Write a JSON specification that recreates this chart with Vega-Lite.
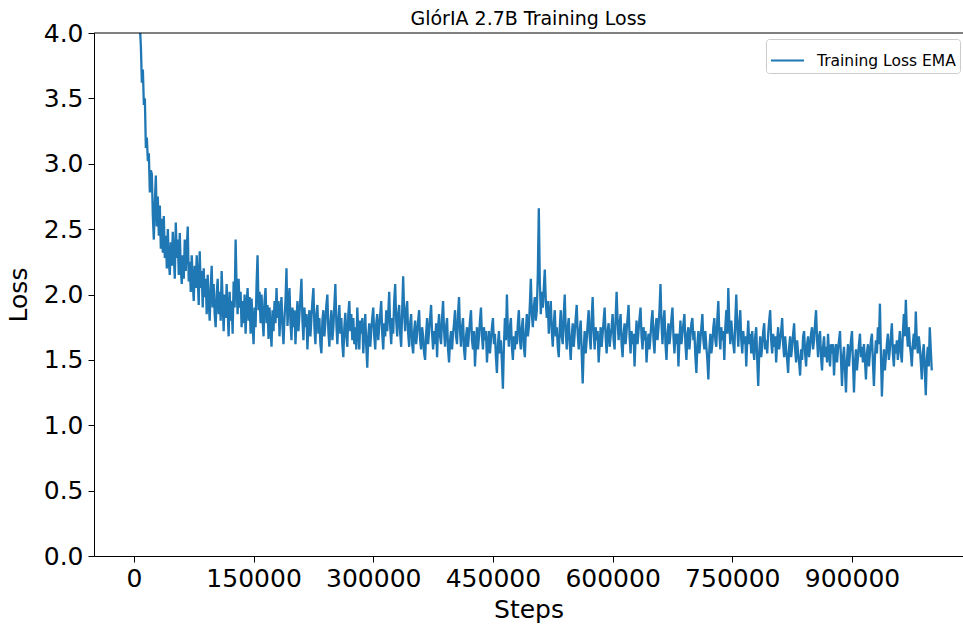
{
  "$schema": "https://vega.github.io/schema/vega-lite/v6.json",
  "width": 869,
  "height": 523,
  "autosize": {"type": "none"},
  "padding": {"left": 94, "top": 33, "right": 0, "bottom": 70},
  "background": "white",
  "config": {"view": {"stroke": null}, "font": "DejaVu Sans"},
  "title": {
    "text": "GlórIA 2.7B Training Loss",
    "font": "DejaVu Sans",
    "fontSize": 19,
    "fontWeight": "normal",
    "color": "black",
    "anchor": "middle",
    "frame": "group",
    "offset": -23,
    "baseline": "alphabetic"
  },
  "data": {
    "values": [
      {"step": 0, "loss": 10.5}, {"step": 1250, "loss": 8.3}, {"step": 2500, "loss": 6.8}, {"step": 3750, "loss": 5.7},
      {"step": 5000, "loss": 4.9}, {"step": 6250, "loss": 4.4}, {"step": 7500, "loss": 4.05}, {"step": 8750, "loss": 3.9},
      {"step": 10000, "loss": 3.62}, {"step": 11250, "loss": 3.72}, {"step": 12500, "loss": 3.45}, {"step": 13750, "loss": 3.5},
      {"step": 15000, "loss": 3.12}, {"step": 16250, "loss": 3.2}, {"step": 17500, "loss": 3.02}, {"step": 18750, "loss": 3.08},
      {"step": 20000, "loss": 2.78}, {"step": 21250, "loss": 2.95}, {"step": 22500, "loss": 2.92}, {"step": 23750, "loss": 2.6},
      {"step": 25000, "loss": 2.42}, {"step": 26250, "loss": 2.7}, {"step": 27500, "loss": 2.91}, {"step": 28750, "loss": 2.52},
      {"step": 30000, "loss": 2.75}, {"step": 31250, "loss": 2.45}, {"step": 32500, "loss": 2.68}, {"step": 33750, "loss": 2.35},
      {"step": 35000, "loss": 2.58}, {"step": 36250, "loss": 2.32}, {"step": 37500, "loss": 2.6}, {"step": 38750, "loss": 2.28},
      {"step": 40000, "loss": 2.45}, {"step": 41250, "loss": 2.2}, {"step": 42500, "loss": 2.5}, {"step": 43750, "loss": 2.25},
      {"step": 45000, "loss": 2.15}, {"step": 46250, "loss": 2.4}, {"step": 47500, "loss": 2.22}, {"step": 48750, "loss": 2.48},
      {"step": 50000, "loss": 2.3}, {"step": 51250, "loss": 2.12}, {"step": 52500, "loss": 2.55}, {"step": 53750, "loss": 2.28},
      {"step": 55000, "loss": 2.42}, {"step": 56250, "loss": 2.15}, {"step": 57500, "loss": 2.47}, {"step": 58750, "loss": 2.2},
      {"step": 60000, "loss": 2.08}, {"step": 61250, "loss": 2.3}, {"step": 62500, "loss": 2.12}, {"step": 63750, "loss": 2.42},
      {"step": 65000, "loss": 2.18}, {"step": 66250, "loss": 2.35}, {"step": 67500, "loss": 2.52}, {"step": 68750, "loss": 2.1},
      {"step": 70000, "loss": 2.25}, {"step": 71250, "loss": 2.02}, {"step": 72500, "loss": 2.3}, {"step": 73750, "loss": 2.1},
      {"step": 75000, "loss": 1.95}, {"step": 76250, "loss": 2.22}, {"step": 77500, "loss": 2.05}, {"step": 78750, "loss": 2.3},
      {"step": 80000, "loss": 2.12}, {"step": 81250, "loss": 1.92}, {"step": 82500, "loss": 2.33}, {"step": 83750, "loss": 2.05},
      {"step": 85000, "loss": 2.18}, {"step": 86250, "loss": 1.9}, {"step": 87500, "loss": 2.2}, {"step": 88750, "loss": 1.98},
      {"step": 90000, "loss": 2.12}, {"step": 91250, "loss": 1.85}, {"step": 92500, "loss": 2.15}, {"step": 93750, "loss": 1.95},
      {"step": 95000, "loss": 1.8}, {"step": 96250, "loss": 2.05}, {"step": 97500, "loss": 2.22}, {"step": 98750, "loss": 1.9},
      {"step": 100000, "loss": 2.08}, {"step": 101250, "loss": 1.85}, {"step": 102500, "loss": 1.75}, {"step": 103750, "loss": 2.0},
      {"step": 105000, "loss": 2.12}, {"step": 106250, "loss": 1.85}, {"step": 107500, "loss": 2.02}, {"step": 108750, "loss": 1.8},
      {"step": 110000, "loss": 2.18}, {"step": 111250, "loss": 1.95}, {"step": 112500, "loss": 1.72}, {"step": 113750, "loss": 2.0},
      {"step": 115000, "loss": 1.82}, {"step": 116250, "loss": 2.08}, {"step": 117500, "loss": 1.88}, {"step": 118750, "loss": 1.68},
      {"step": 120000, "loss": 2.02}, {"step": 121250, "loss": 1.8}, {"step": 122500, "loss": 1.95}, {"step": 123750, "loss": 1.7},
      {"step": 125000, "loss": 2.1}, {"step": 126250, "loss": 1.9}, {"step": 127500, "loss": 2.42}, {"step": 128750, "loss": 2.05},
      {"step": 130000, "loss": 1.85}, {"step": 131250, "loss": 2.12}, {"step": 132500, "loss": 1.9}, {"step": 133750, "loss": 2.02},
      {"step": 135000, "loss": 1.75}, {"step": 136250, "loss": 1.95}, {"step": 137500, "loss": 1.78}, {"step": 138750, "loss": 2.0},
      {"step": 140000, "loss": 1.7}, {"step": 141250, "loss": 1.92}, {"step": 142500, "loss": 2.05}, {"step": 143750, "loss": 1.8},
      {"step": 145000, "loss": 1.98}, {"step": 146250, "loss": 1.7}, {"step": 147500, "loss": 1.97}, {"step": 148750, "loss": 1.78},
      {"step": 150000, "loss": 1.62}, {"step": 151250, "loss": 1.9}, {"step": 152500, "loss": 1.75}, {"step": 153750, "loss": 2.08},
      {"step": 155000, "loss": 2.3}, {"step": 156250, "loss": 1.88}, {"step": 157500, "loss": 2.02}, {"step": 158750, "loss": 1.78},
      {"step": 160000, "loss": 2.0}, {"step": 161250, "loss": 1.82}, {"step": 162500, "loss": 1.68}, {"step": 163750, "loss": 1.95},
      {"step": 165000, "loss": 2.05}, {"step": 166250, "loss": 1.78}, {"step": 167500, "loss": 1.92}, {"step": 168750, "loss": 1.66},
      {"step": 170000, "loss": 1.9}, {"step": 171250, "loss": 1.75}, {"step": 172500, "loss": 1.6}, {"step": 173750, "loss": 1.88},
      {"step": 175000, "loss": 1.72}, {"step": 176250, "loss": 1.95}, {"step": 177500, "loss": 1.78}, {"step": 178750, "loss": 2.05},
      {"step": 180000, "loss": 1.82}, {"step": 181250, "loss": 1.95}, {"step": 182500, "loss": 1.68}, {"step": 183750, "loss": 1.88},
      {"step": 185000, "loss": 1.98}, {"step": 186250, "loss": 1.75}, {"step": 187500, "loss": 1.62}, {"step": 188750, "loss": 1.82},
      {"step": 190000, "loss": 1.95}, {"step": 191250, "loss": 2.2}, {"step": 192500, "loss": 1.76}, {"step": 193750, "loss": 1.92},
      {"step": 195000, "loss": 2.05}, {"step": 196250, "loss": 1.78}, {"step": 197500, "loss": 1.65}, {"step": 198750, "loss": 1.9},
      {"step": 200000, "loss": 1.75}, {"step": 201250, "loss": 1.88}, {"step": 202500, "loss": 1.62}, {"step": 203750, "loss": 1.8},
      {"step": 205000, "loss": 1.95}, {"step": 206250, "loss": 1.72}, {"step": 207500, "loss": 1.85}, {"step": 208750, "loss": 1.98},
      {"step": 210000, "loss": 2.12}, {"step": 211250, "loss": 1.8}, {"step": 212500, "loss": 1.65}, {"step": 213750, "loss": 1.9},
      {"step": 215000, "loss": 1.75}, {"step": 216250, "loss": 1.85}, {"step": 217500, "loss": 1.58}, {"step": 218750, "loss": 1.78},
      {"step": 220000, "loss": 1.88}, {"step": 221250, "loss": 1.68}, {"step": 222500, "loss": 1.82}, {"step": 223750, "loss": 1.95},
      {"step": 225000, "loss": 2.05}, {"step": 226250, "loss": 1.75}, {"step": 227500, "loss": 1.62}, {"step": 228750, "loss": 1.85},
      {"step": 230000, "loss": 1.92}, {"step": 231250, "loss": 1.7}, {"step": 232500, "loss": 1.82}, {"step": 233750, "loss": 1.62},
      {"step": 235000, "loss": 1.55}, {"step": 236250, "loss": 1.8}, {"step": 237500, "loss": 1.88}, {"step": 238750, "loss": 1.68},
      {"step": 240000, "loss": 1.78}, {"step": 241250, "loss": 1.92}, {"step": 242500, "loss": 2.0}, {"step": 243750, "loss": 1.72},
      {"step": 245000, "loss": 1.6}, {"step": 246250, "loss": 1.78}, {"step": 247500, "loss": 1.88}, {"step": 248750, "loss": 1.65},
      {"step": 250000, "loss": 1.75}, {"step": 251250, "loss": 1.92}, {"step": 252500, "loss": 2.08}, {"step": 253750, "loss": 1.78},
      {"step": 255000, "loss": 1.62}, {"step": 256250, "loss": 1.8}, {"step": 257500, "loss": 1.92}, {"step": 258750, "loss": 1.7},
      {"step": 260000, "loss": 1.82}, {"step": 261250, "loss": 1.62}, {"step": 262500, "loss": 1.52}, {"step": 263750, "loss": 1.75},
      {"step": 265000, "loss": 1.86}, {"step": 266250, "loss": 1.68}, {"step": 267500, "loss": 1.6}, {"step": 268750, "loss": 1.85},
      {"step": 270000, "loss": 1.95}, {"step": 271250, "loss": 1.72}, {"step": 272500, "loss": 1.85}, {"step": 273750, "loss": 1.65},
      {"step": 275000, "loss": 1.82}, {"step": 276250, "loss": 1.62}, {"step": 277500, "loss": 1.75}, {"step": 278750, "loss": 1.58},
      {"step": 280000, "loss": 1.9}, {"step": 281250, "loss": 1.72}, {"step": 282500, "loss": 1.58}, {"step": 283750, "loss": 1.8},
      {"step": 285000, "loss": 1.7}, {"step": 286250, "loss": 1.82}, {"step": 287500, "loss": 1.55}, {"step": 288750, "loss": 1.72},
      {"step": 290000, "loss": 1.85}, {"step": 291250, "loss": 1.6}, {"step": 292500, "loss": 1.44}, {"step": 293750, "loss": 1.68},
      {"step": 295000, "loss": 1.78}, {"step": 296250, "loss": 1.6}, {"step": 297500, "loss": 1.72}, {"step": 298750, "loss": 1.82},
      {"step": 300000, "loss": 1.9}, {"step": 301250, "loss": 1.68}, {"step": 302500, "loss": 1.58}, {"step": 303750, "loss": 1.78},
      {"step": 305000, "loss": 1.85}, {"step": 306250, "loss": 1.65}, {"step": 307500, "loss": 1.75}, {"step": 308750, "loss": 1.85},
      {"step": 310000, "loss": 1.95}, {"step": 311250, "loss": 1.7}, {"step": 312500, "loss": 1.58}, {"step": 313750, "loss": 1.78},
      {"step": 315000, "loss": 1.68}, {"step": 316250, "loss": 1.88}, {"step": 317500, "loss": 1.72}, {"step": 318750, "loss": 1.85},
      {"step": 320000, "loss": 2.02}, {"step": 321250, "loss": 1.75}, {"step": 322500, "loss": 1.62}, {"step": 323750, "loss": 1.82},
      {"step": 325000, "loss": 1.7}, {"step": 326250, "loss": 1.95}, {"step": 327500, "loss": 2.08}, {"step": 328750, "loss": 1.8},
      {"step": 330000, "loss": 1.68}, {"step": 331250, "loss": 1.85}, {"step": 332500, "loss": 1.92}, {"step": 333750, "loss": 1.7},
      {"step": 335000, "loss": 1.6}, {"step": 336250, "loss": 1.88}, {"step": 337500, "loss": 2.14}, {"step": 338750, "loss": 1.85},
      {"step": 340000, "loss": 1.72}, {"step": 341250, "loss": 1.88}, {"step": 342500, "loss": 1.95}, {"step": 343750, "loss": 1.7},
      {"step": 345000, "loss": 1.6}, {"step": 346250, "loss": 1.78}, {"step": 347500, "loss": 1.85}, {"step": 348750, "loss": 1.62},
      {"step": 350000, "loss": 1.55}, {"step": 351250, "loss": 1.72}, {"step": 352500, "loss": 1.8}, {"step": 353750, "loss": 1.62},
      {"step": 355000, "loss": 1.7}, {"step": 356250, "loss": 1.8}, {"step": 357500, "loss": 1.88}, {"step": 358750, "loss": 1.65},
      {"step": 360000, "loss": 1.58}, {"step": 361250, "loss": 1.75}, {"step": 362500, "loss": 1.68}, {"step": 363750, "loss": 1.55},
      {"step": 365000, "loss": 1.5}, {"step": 366250, "loss": 1.7}, {"step": 367500, "loss": 1.82}, {"step": 368750, "loss": 1.62},
      {"step": 370000, "loss": 1.72}, {"step": 371250, "loss": 1.82}, {"step": 372500, "loss": 1.92}, {"step": 373750, "loss": 1.7},
      {"step": 375000, "loss": 1.58}, {"step": 376250, "loss": 1.72}, {"step": 377500, "loss": 1.62}, {"step": 378750, "loss": 1.78},
      {"step": 380000, "loss": 1.52}, {"step": 381250, "loss": 1.75}, {"step": 382500, "loss": 1.85}, {"step": 383750, "loss": 1.68},
      {"step": 385000, "loss": 1.62}, {"step": 386250, "loss": 1.82}, {"step": 387500, "loss": 1.95}, {"step": 388750, "loss": 1.72},
      {"step": 390000, "loss": 1.6}, {"step": 391250, "loss": 1.75}, {"step": 392500, "loss": 1.82}, {"step": 393750, "loss": 1.58},
      {"step": 395000, "loss": 1.48}, {"step": 396250, "loss": 1.65}, {"step": 397500, "loss": 1.72}, {"step": 398750, "loss": 1.58},
      {"step": 400000, "loss": 1.7}, {"step": 401250, "loss": 1.78}, {"step": 402500, "loss": 1.88}, {"step": 403750, "loss": 1.68},
      {"step": 405000, "loss": 1.62}, {"step": 406250, "loss": 1.85}, {"step": 407500, "loss": 1.98}, {"step": 408750, "loss": 1.72},
      {"step": 410000, "loss": 1.6}, {"step": 411250, "loss": 1.75}, {"step": 412500, "loss": 1.82}, {"step": 413750, "loss": 1.58},
      {"step": 415000, "loss": 1.5}, {"step": 416250, "loss": 1.68}, {"step": 417500, "loss": 1.75}, {"step": 418750, "loss": 1.6},
      {"step": 420000, "loss": 1.7}, {"step": 421250, "loss": 1.8}, {"step": 422500, "loss": 1.88}, {"step": 423750, "loss": 1.65},
      {"step": 425000, "loss": 1.58}, {"step": 426250, "loss": 1.72}, {"step": 427500, "loss": 1.45}, {"step": 428750, "loss": 1.62},
      {"step": 430000, "loss": 1.75}, {"step": 431250, "loss": 1.58}, {"step": 432500, "loss": 1.68}, {"step": 433750, "loss": 1.8},
      {"step": 435000, "loss": 1.9}, {"step": 436250, "loss": 1.68}, {"step": 437500, "loss": 1.58}, {"step": 438750, "loss": 1.75},
      {"step": 440000, "loss": 1.65}, {"step": 441250, "loss": 1.72}, {"step": 442500, "loss": 1.48}, {"step": 443750, "loss": 1.62},
      {"step": 445000, "loss": 1.72}, {"step": 446250, "loss": 1.55}, {"step": 447500, "loss": 1.65}, {"step": 448750, "loss": 1.75},
      {"step": 450000, "loss": 1.82}, {"step": 451250, "loss": 1.62}, {"step": 452500, "loss": 1.7}, {"step": 453750, "loss": 1.52},
      {"step": 455000, "loss": 1.4}, {"step": 456250, "loss": 1.62}, {"step": 457500, "loss": 1.72}, {"step": 458750, "loss": 1.55},
      {"step": 460000, "loss": 1.65}, {"step": 461250, "loss": 1.48}, {"step": 462500, "loss": 1.28}, {"step": 463750, "loss": 1.6},
      {"step": 465000, "loss": 1.82}, {"step": 466250, "loss": 1.65}, {"step": 467500, "loss": 2.0}, {"step": 468750, "loss": 1.72},
      {"step": 470000, "loss": 1.6}, {"step": 471250, "loss": 1.75}, {"step": 472500, "loss": 1.82}, {"step": 473750, "loss": 1.6},
      {"step": 475000, "loss": 1.5}, {"step": 476250, "loss": 1.68}, {"step": 477500, "loss": 1.58}, {"step": 478750, "loss": 1.72},
      {"step": 480000, "loss": 1.62}, {"step": 481250, "loss": 1.78}, {"step": 482500, "loss": 1.88}, {"step": 483750, "loss": 1.65},
      {"step": 485000, "loss": 1.58}, {"step": 486250, "loss": 1.75}, {"step": 487500, "loss": 1.82}, {"step": 488750, "loss": 1.6},
      {"step": 490000, "loss": 1.52}, {"step": 491250, "loss": 1.72}, {"step": 492500, "loss": 1.85}, {"step": 493750, "loss": 1.68},
      {"step": 495000, "loss": 1.75}, {"step": 496250, "loss": 1.92}, {"step": 497500, "loss": 2.12}, {"step": 498750, "loss": 1.85},
      {"step": 500000, "loss": 1.75}, {"step": 501250, "loss": 1.9}, {"step": 502500, "loss": 1.98}, {"step": 503750, "loss": 1.8},
      {"step": 505000, "loss": 1.88}, {"step": 506250, "loss": 2.15}, {"step": 507500, "loss": 2.66}, {"step": 508750, "loss": 2.1},
      {"step": 510000, "loss": 1.85}, {"step": 511250, "loss": 2.02}, {"step": 512500, "loss": 1.9}, {"step": 513750, "loss": 2.05},
      {"step": 515000, "loss": 2.19}, {"step": 516250, "loss": 1.95}, {"step": 517500, "loss": 1.82}, {"step": 518750, "loss": 1.95},
      {"step": 520000, "loss": 1.7}, {"step": 521250, "loss": 1.85}, {"step": 522500, "loss": 1.95}, {"step": 523750, "loss": 1.72},
      {"step": 525000, "loss": 1.6}, {"step": 526250, "loss": 1.78}, {"step": 527500, "loss": 1.88}, {"step": 528750, "loss": 1.68},
      {"step": 530000, "loss": 1.75}, {"step": 531250, "loss": 1.6}, {"step": 532500, "loss": 1.52}, {"step": 533750, "loss": 1.75},
      {"step": 535000, "loss": 1.88}, {"step": 536250, "loss": 1.68}, {"step": 537500, "loss": 1.62}, {"step": 538750, "loss": 1.85},
      {"step": 540000, "loss": 2.0}, {"step": 541250, "loss": 1.72}, {"step": 542500, "loss": 1.58}, {"step": 543750, "loss": 1.75},
      {"step": 545000, "loss": 1.82}, {"step": 546250, "loss": 1.62}, {"step": 547500, "loss": 1.5}, {"step": 548750, "loss": 1.68},
      {"step": 550000, "loss": 1.78}, {"step": 551250, "loss": 1.6}, {"step": 552500, "loss": 1.7}, {"step": 553750, "loss": 1.82},
      {"step": 555000, "loss": 1.92}, {"step": 556250, "loss": 1.7}, {"step": 557500, "loss": 1.58}, {"step": 558750, "loss": 1.72},
      {"step": 560000, "loss": 1.8}, {"step": 561250, "loss": 1.55}, {"step": 562500, "loss": 1.32}, {"step": 563750, "loss": 1.58},
      {"step": 565000, "loss": 1.72}, {"step": 566250, "loss": 1.55}, {"step": 567500, "loss": 1.65}, {"step": 568750, "loss": 1.78},
      {"step": 570000, "loss": 1.88}, {"step": 571250, "loss": 1.68}, {"step": 572500, "loss": 1.58}, {"step": 573750, "loss": 1.82},
      {"step": 575000, "loss": 1.98}, {"step": 576250, "loss": 1.72}, {"step": 577500, "loss": 1.58}, {"step": 578750, "loss": 1.75},
      {"step": 580000, "loss": 1.65}, {"step": 581250, "loss": 1.72}, {"step": 582500, "loss": 1.48}, {"step": 583750, "loss": 1.62},
      {"step": 585000, "loss": 1.75}, {"step": 586250, "loss": 1.6}, {"step": 587500, "loss": 1.7}, {"step": 588750, "loss": 1.8},
      {"step": 590000, "loss": 1.9}, {"step": 591250, "loss": 1.68}, {"step": 592500, "loss": 1.55}, {"step": 593750, "loss": 1.72},
      {"step": 595000, "loss": 1.78}, {"step": 596250, "loss": 1.6}, {"step": 597500, "loss": 1.68}, {"step": 598750, "loss": 1.75},
      {"step": 600000, "loss": 1.85}, {"step": 601250, "loss": 1.65}, {"step": 602500, "loss": 1.58}, {"step": 603750, "loss": 1.82},
      {"step": 605000, "loss": 2.02}, {"step": 606250, "loss": 1.8}, {"step": 607500, "loss": 1.65}, {"step": 608750, "loss": 1.78},
      {"step": 610000, "loss": 1.85}, {"step": 611250, "loss": 1.62}, {"step": 612500, "loss": 1.52}, {"step": 613750, "loss": 1.7},
      {"step": 615000, "loss": 1.78}, {"step": 616250, "loss": 1.62}, {"step": 617500, "loss": 1.72}, {"step": 618750, "loss": 1.82},
      {"step": 620000, "loss": 1.92}, {"step": 621250, "loss": 1.68}, {"step": 622500, "loss": 1.55}, {"step": 623750, "loss": 1.72},
      {"step": 625000, "loss": 1.62}, {"step": 626250, "loss": 1.7}, {"step": 627500, "loss": 1.45}, {"step": 628750, "loss": 1.65},
      {"step": 630000, "loss": 1.8}, {"step": 631250, "loss": 1.62}, {"step": 632500, "loss": 1.72}, {"step": 633750, "loss": 1.82},
      {"step": 635000, "loss": 1.9}, {"step": 636250, "loss": 1.68}, {"step": 637500, "loss": 1.58}, {"step": 638750, "loss": 1.75},
      {"step": 640000, "loss": 1.65}, {"step": 641250, "loss": 1.72}, {"step": 642500, "loss": 1.48}, {"step": 643750, "loss": 1.62},
      {"step": 645000, "loss": 1.7}, {"step": 646250, "loss": 1.58}, {"step": 647500, "loss": 1.68}, {"step": 648750, "loss": 1.8},
      {"step": 650000, "loss": 1.88}, {"step": 651250, "loss": 1.65}, {"step": 652500, "loss": 1.55}, {"step": 653750, "loss": 1.75},
      {"step": 655000, "loss": 1.82}, {"step": 656250, "loss": 1.65}, {"step": 657500, "loss": 1.75}, {"step": 658750, "loss": 1.88},
      {"step": 660000, "loss": 2.08}, {"step": 661250, "loss": 1.78}, {"step": 662500, "loss": 1.62}, {"step": 663750, "loss": 1.8},
      {"step": 665000, "loss": 1.88}, {"step": 666250, "loss": 1.62}, {"step": 667500, "loss": 1.5}, {"step": 668750, "loss": 1.7},
      {"step": 670000, "loss": 1.78}, {"step": 671250, "loss": 1.62}, {"step": 672500, "loss": 1.7}, {"step": 673750, "loss": 1.82},
      {"step": 675000, "loss": 1.9}, {"step": 676250, "loss": 1.68}, {"step": 677500, "loss": 1.55}, {"step": 678750, "loss": 1.7},
      {"step": 680000, "loss": 1.62}, {"step": 681250, "loss": 1.7}, {"step": 682500, "loss": 1.45}, {"step": 683750, "loss": 1.65},
      {"step": 685000, "loss": 1.8}, {"step": 686250, "loss": 1.62}, {"step": 687500, "loss": 1.7}, {"step": 688750, "loss": 1.78},
      {"step": 690000, "loss": 1.85}, {"step": 691250, "loss": 1.62}, {"step": 692500, "loss": 1.5}, {"step": 693750, "loss": 1.7},
      {"step": 695000, "loss": 1.75}, {"step": 696250, "loss": 1.58}, {"step": 697500, "loss": 1.68}, {"step": 698750, "loss": 1.78},
      {"step": 700000, "loss": 1.82}, {"step": 701250, "loss": 1.65}, {"step": 702500, "loss": 1.72}, {"step": 703750, "loss": 1.52},
      {"step": 705000, "loss": 1.4}, {"step": 706250, "loss": 1.62}, {"step": 707500, "loss": 1.72}, {"step": 708750, "loss": 1.55},
      {"step": 710000, "loss": 1.65}, {"step": 711250, "loss": 1.75}, {"step": 712500, "loss": 1.85}, {"step": 713750, "loss": 1.65},
      {"step": 715000, "loss": 1.58}, {"step": 716250, "loss": 1.72}, {"step": 717500, "loss": 1.6}, {"step": 718750, "loss": 1.5},
      {"step": 720000, "loss": 1.35}, {"step": 721250, "loss": 1.58}, {"step": 722500, "loss": 1.7}, {"step": 723750, "loss": 1.55},
      {"step": 725000, "loss": 1.62}, {"step": 726250, "loss": 1.75}, {"step": 727500, "loss": 1.82}, {"step": 728750, "loss": 1.65},
      {"step": 730000, "loss": 1.6}, {"step": 731250, "loss": 1.82}, {"step": 732500, "loss": 1.95}, {"step": 733750, "loss": 1.7},
      {"step": 735000, "loss": 1.58}, {"step": 736250, "loss": 1.75}, {"step": 737500, "loss": 1.65}, {"step": 738750, "loss": 1.72},
      {"step": 740000, "loss": 1.5}, {"step": 741250, "loss": 1.75}, {"step": 742500, "loss": 1.88}, {"step": 743750, "loss": 1.7},
      {"step": 745000, "loss": 2.05}, {"step": 746250, "loss": 1.78}, {"step": 747500, "loss": 1.62}, {"step": 748750, "loss": 1.8},
      {"step": 750000, "loss": 1.7}, {"step": 751250, "loss": 1.62}, {"step": 752500, "loss": 1.55}, {"step": 753750, "loss": 1.8},
      {"step": 755000, "loss": 2.0}, {"step": 756250, "loss": 1.75}, {"step": 757500, "loss": 1.6}, {"step": 758750, "loss": 1.78},
      {"step": 760000, "loss": 1.88}, {"step": 761250, "loss": 1.65}, {"step": 762500, "loss": 1.55}, {"step": 763750, "loss": 1.72},
      {"step": 765000, "loss": 1.62}, {"step": 766250, "loss": 1.68}, {"step": 767500, "loss": 1.45}, {"step": 768750, "loss": 1.65},
      {"step": 770000, "loss": 1.8}, {"step": 771250, "loss": 1.62}, {"step": 772500, "loss": 1.7}, {"step": 773750, "loss": 1.55},
      {"step": 775000, "loss": 1.72}, {"step": 776250, "loss": 1.58}, {"step": 777500, "loss": 1.5}, {"step": 778750, "loss": 1.68},
      {"step": 780000, "loss": 1.75}, {"step": 781250, "loss": 1.5}, {"step": 782500, "loss": 1.3}, {"step": 783750, "loss": 1.55},
      {"step": 785000, "loss": 1.68}, {"step": 786250, "loss": 1.52}, {"step": 787500, "loss": 1.6}, {"step": 788750, "loss": 1.72},
      {"step": 790000, "loss": 1.78}, {"step": 791250, "loss": 1.58}, {"step": 792500, "loss": 1.65}, {"step": 793750, "loss": 1.55},
      {"step": 795000, "loss": 1.7}, {"step": 796250, "loss": 1.8}, {"step": 797500, "loss": 1.88}, {"step": 798750, "loss": 1.65},
      {"step": 800000, "loss": 1.55}, {"step": 801250, "loss": 1.7}, {"step": 802500, "loss": 1.6}, {"step": 803750, "loss": 1.68},
      {"step": 805000, "loss": 1.48}, {"step": 806250, "loss": 1.65}, {"step": 807500, "loss": 1.75}, {"step": 808750, "loss": 1.58},
      {"step": 810000, "loss": 1.65}, {"step": 811250, "loss": 1.72}, {"step": 812500, "loss": 1.82}, {"step": 813750, "loss": 1.62},
      {"step": 815000, "loss": 1.52}, {"step": 816250, "loss": 1.68}, {"step": 817500, "loss": 1.58}, {"step": 818750, "loss": 1.5},
      {"step": 820000, "loss": 1.4}, {"step": 821250, "loss": 1.6}, {"step": 822500, "loss": 1.68}, {"step": 823750, "loss": 1.52},
      {"step": 825000, "loss": 1.6}, {"step": 826250, "loss": 1.7}, {"step": 827500, "loss": 1.78}, {"step": 828750, "loss": 1.58},
      {"step": 830000, "loss": 1.48}, {"step": 831250, "loss": 1.65}, {"step": 832500, "loss": 1.55}, {"step": 833750, "loss": 1.48},
      {"step": 835000, "loss": 1.38}, {"step": 836250, "loss": 1.58}, {"step": 837500, "loss": 1.5}, {"step": 838750, "loss": 1.68},
      {"step": 840000, "loss": 1.72}, {"step": 841250, "loss": 1.55}, {"step": 842500, "loss": 1.45}, {"step": 843750, "loss": 1.62},
      {"step": 845000, "loss": 1.68}, {"step": 846250, "loss": 1.52}, {"step": 847500, "loss": 1.6}, {"step": 848750, "loss": 1.7},
      {"step": 850000, "loss": 1.75}, {"step": 851250, "loss": 1.58}, {"step": 852500, "loss": 1.65}, {"step": 853750, "loss": 1.78},
      {"step": 855000, "loss": 1.88}, {"step": 856250, "loss": 1.65}, {"step": 857500, "loss": 1.52}, {"step": 858750, "loss": 1.68},
      {"step": 860000, "loss": 1.72}, {"step": 861250, "loss": 1.52}, {"step": 862500, "loss": 1.42}, {"step": 863750, "loss": 1.6},
      {"step": 865000, "loss": 1.68}, {"step": 866250, "loss": 1.52}, {"step": 867500, "loss": 1.6}, {"step": 868750, "loss": 1.48},
      {"step": 870000, "loss": 1.7}, {"step": 871250, "loss": 1.55}, {"step": 872500, "loss": 1.45}, {"step": 873750, "loss": 1.62},
      {"step": 875000, "loss": 1.55}, {"step": 876250, "loss": 1.62}, {"step": 877500, "loss": 1.38}, {"step": 878750, "loss": 1.55},
      {"step": 880000, "loss": 1.62}, {"step": 881250, "loss": 1.48}, {"step": 882500, "loss": 1.58}, {"step": 883750, "loss": 1.65},
      {"step": 885000, "loss": 1.72}, {"step": 886250, "loss": 1.5}, {"step": 887500, "loss": 1.3}, {"step": 888750, "loss": 1.52},
      {"step": 890000, "loss": 1.6}, {"step": 891250, "loss": 1.42}, {"step": 892500, "loss": 1.25}, {"step": 893750, "loss": 1.5},
      {"step": 895000, "loss": 1.62}, {"step": 896250, "loss": 1.45}, {"step": 897500, "loss": 1.55}, {"step": 898750, "loss": 1.65},
      {"step": 900000, "loss": 1.72}, {"step": 901250, "loss": 1.48}, {"step": 902500, "loss": 1.25}, {"step": 903750, "loss": 1.48},
      {"step": 905000, "loss": 1.58}, {"step": 906250, "loss": 1.42}, {"step": 907500, "loss": 1.52}, {"step": 908750, "loss": 1.62},
      {"step": 910000, "loss": 1.7}, {"step": 911250, "loss": 1.52}, {"step": 912500, "loss": 1.6}, {"step": 913750, "loss": 1.48},
      {"step": 915000, "loss": 1.62}, {"step": 916250, "loss": 1.5}, {"step": 917500, "loss": 1.35}, {"step": 918750, "loss": 1.55},
      {"step": 920000, "loss": 1.62}, {"step": 921250, "loss": 1.45}, {"step": 922500, "loss": 1.55}, {"step": 923750, "loss": 1.65},
      {"step": 925000, "loss": 1.7}, {"step": 926250, "loss": 1.48}, {"step": 927500, "loss": 1.3}, {"step": 928750, "loss": 1.52},
      {"step": 930000, "loss": 1.65}, {"step": 931250, "loss": 1.55}, {"step": 932500, "loss": 1.75}, {"step": 933750, "loss": 1.62},
      {"step": 935000, "loss": 1.93}, {"step": 936250, "loss": 1.55}, {"step": 937500, "loss": 1.22}, {"step": 938750, "loss": 1.45},
      {"step": 940000, "loss": 1.58}, {"step": 941250, "loss": 1.42}, {"step": 942500, "loss": 1.52}, {"step": 943750, "loss": 1.62},
      {"step": 945000, "loss": 1.7}, {"step": 946250, "loss": 1.5}, {"step": 947500, "loss": 1.58}, {"step": 948750, "loss": 1.68},
      {"step": 950000, "loss": 1.78}, {"step": 951250, "loss": 1.55}, {"step": 952500, "loss": 1.45}, {"step": 953750, "loss": 1.62},
      {"step": 955000, "loss": 1.55}, {"step": 956250, "loss": 1.65}, {"step": 957500, "loss": 1.5}, {"step": 958750, "loss": 1.62},
      {"step": 960000, "loss": 1.72}, {"step": 961250, "loss": 1.55}, {"step": 962500, "loss": 1.48}, {"step": 963750, "loss": 1.7},
      {"step": 965000, "loss": 1.85}, {"step": 966250, "loss": 1.68}, {"step": 967500, "loss": 1.96}, {"step": 968750, "loss": 1.72},
      {"step": 970000, "loss": 1.6}, {"step": 971250, "loss": 1.75}, {"step": 972500, "loss": 1.62}, {"step": 973750, "loss": 1.55},
      {"step": 975000, "loss": 1.45}, {"step": 976250, "loss": 1.62}, {"step": 977500, "loss": 1.7}, {"step": 978750, "loss": 1.58},
      {"step": 980000, "loss": 1.87}, {"step": 981250, "loss": 1.65}, {"step": 982500, "loss": 1.55}, {"step": 983750, "loss": 1.68},
      {"step": 985000, "loss": 1.6}, {"step": 986250, "loss": 1.48}, {"step": 987500, "loss": 1.35}, {"step": 988750, "loss": 1.55},
      {"step": 990000, "loss": 1.62}, {"step": 991250, "loss": 1.42}, {"step": 992500, "loss": 1.23}, {"step": 993750, "loss": 1.5},
      {"step": 995000, "loss": 1.6}, {"step": 996250, "loss": 1.45}, {"step": 997500, "loss": 1.75}, {"step": 998750, "loss": 1.58},
      {"step": 1000000, "loss": 1.42}
    ]
  },
  "layer": [
    {
      "mark": {"type": "line", "clip": true, "strokeWidth": 2.3},
      "encoding": {
        "x": {
          "field": "step",
          "type": "quantitative",
          "scale": {"domain": [-50000, 1039150], "nice": false, "zero": false},
          "axis": {
            "title": "Steps",
            "values": [0, 150000, 300000, 450000, 600000, 750000, 900000],
            "format": "d",
            "grid": false,
            "labelFont": "DejaVu Sans",
            "labelFontSize": 25,
            "labelColor": "black",
            "labelPadding": 4,
            "labelFlush": false,
            "labelOverlap": false,
            "titleFont": "DejaVu Sans",
            "titleFontSize": 25,
            "titleFontWeight": "normal",
            "titleColor": "black",
            "titlePadding": 6,
            "domainColor": "black",
            "domainWidth": 1,
            "tickColor": "black",
            "tickSize": 6,
            "tickWidth": 1
          }
        },
        "y": {
          "field": "loss",
          "type": "quantitative",
          "scale": {"domain": [0, 4], "nice": false},
          "axis": {
            "title": "Loss",
            "values": [0, 0.5, 1, 1.5, 2, 2.5, 3, 3.5, 4],
            "format": ".1f",
            "grid": false,
            "labelFont": "DejaVu Sans",
            "labelFontSize": 25,
            "labelColor": "black",
            "labelPadding": 5,
            "labelFlush": false,
            "labelOverlap": false,
            "titleFont": "DejaVu Sans",
            "titleFontSize": 25,
            "titleFontWeight": "normal",
            "titleColor": "black",
            "titlePadding": 12,
            "domainColor": "black",
            "domainWidth": 1,
            "tickColor": "black",
            "tickSize": 6,
            "tickWidth": 1
          }
        },
        "color": {
          "datum": "Training Loss EMA",
          "scale": {"range": ["#1f77b4"]},
          "legend": {
            "title": null,
            "orient": "none",
            "legendX": 672,
            "legendY": 6,
            "fillColor": "rgba(255,255,255,0.8)",
            "strokeColor": "#cccccc",
            "cornerRadius": 3,
            "padding": 4,
            "labelFont": "DejaVu Sans",
            "labelFontSize": 15.5,
            "labelColor": "black",
            "labelOffset": 12,
            "symbolType": "stroke",
            "symbolSize": 1089,
            "symbolStrokeWidth": 1.9
          }
        }
      }
    },
    {
      "data": {"values": [{}]},
      "mark": {"type": "rule", "color": "black", "strokeWidth": 1},
      "encoding": {"y": {"datum": 4}}
    }
  ]
}
